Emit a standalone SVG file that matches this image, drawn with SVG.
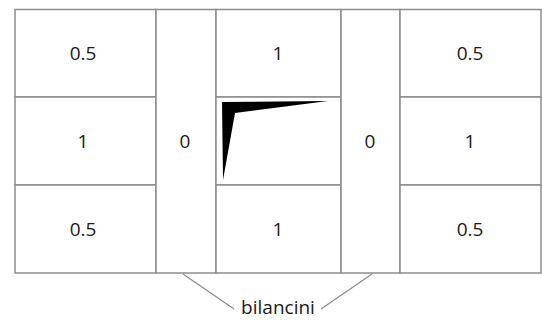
<svg xmlns="http://www.w3.org/2000/svg" width="542" height="320" viewBox="0 0 542 320">
<style>
.cell{fill:#ffffff;stroke:#8c8c8c;stroke-width:1.5}
.t{font-family:"Open Sans","DejaVu Sans",sans-serif;font-size:19px;fill:#1a1a1a;text-anchor:middle}
.c{stroke:#8c8c8c;stroke-width:1.3;fill:none}
</style>
<rect width="542" height="320" fill="#ffffff"/>
<g id="cell-l1"><rect class="cell" x="15" y="9.5" width="141" height="87.5"/><text class="t" x="83" y="60">0.5</text></g>
<g id="cell-l2"><rect class="cell" x="15" y="97" width="141" height="88"/><text class="t" x="83" y="148">1</text></g>
<g id="cell-l3"><rect class="cell" x="15" y="185" width="141" height="88"/><text class="t" x="83" y="236">0.5</text></g>
<g id="bil-l"><rect class="cell" x="156" y="9.5" width="60" height="263.5"/><text class="t" x="185" y="148">0</text></g>
<g id="cell-m1"><rect class="cell" x="216" y="9.5" width="125" height="87.5"/><text class="t" x="278" y="60">1</text></g>
<g id="cell-m2"><rect class="cell" x="216" y="97" width="125" height="88"/>
<polygon points="222,102 328,101 235,113 223,180" fill="#000000"/></g>
<g id="cell-m3"><rect class="cell" x="216" y="185" width="125" height="88"/><text class="t" x="278" y="236">1</text></g>
<g id="bil-r"><rect class="cell" x="341" y="9.5" width="59" height="263.5"/><text class="t" x="370" y="148">0</text></g>
<g id="cell-r1"><rect class="cell" x="400" y="9.5" width="141" height="87.5"/><text class="t" x="470" y="60">0.5</text></g>
<g id="cell-r2"><rect class="cell" x="400" y="97" width="141" height="88"/><text class="t" x="470" y="148">1</text></g>
<g id="cell-r3"><rect class="cell" x="400" y="185" width="141" height="88"/><text class="t" x="470" y="236">0.5</text></g>
<g id="label"><text class="t" x="278" y="314">bilancini</text></g>
<g id="connectors">
<line class="c" x1="183" y1="274" x2="234" y2="309"/>
<line class="c" x1="372" y1="274" x2="321" y2="309"/>
</g>
</svg>
